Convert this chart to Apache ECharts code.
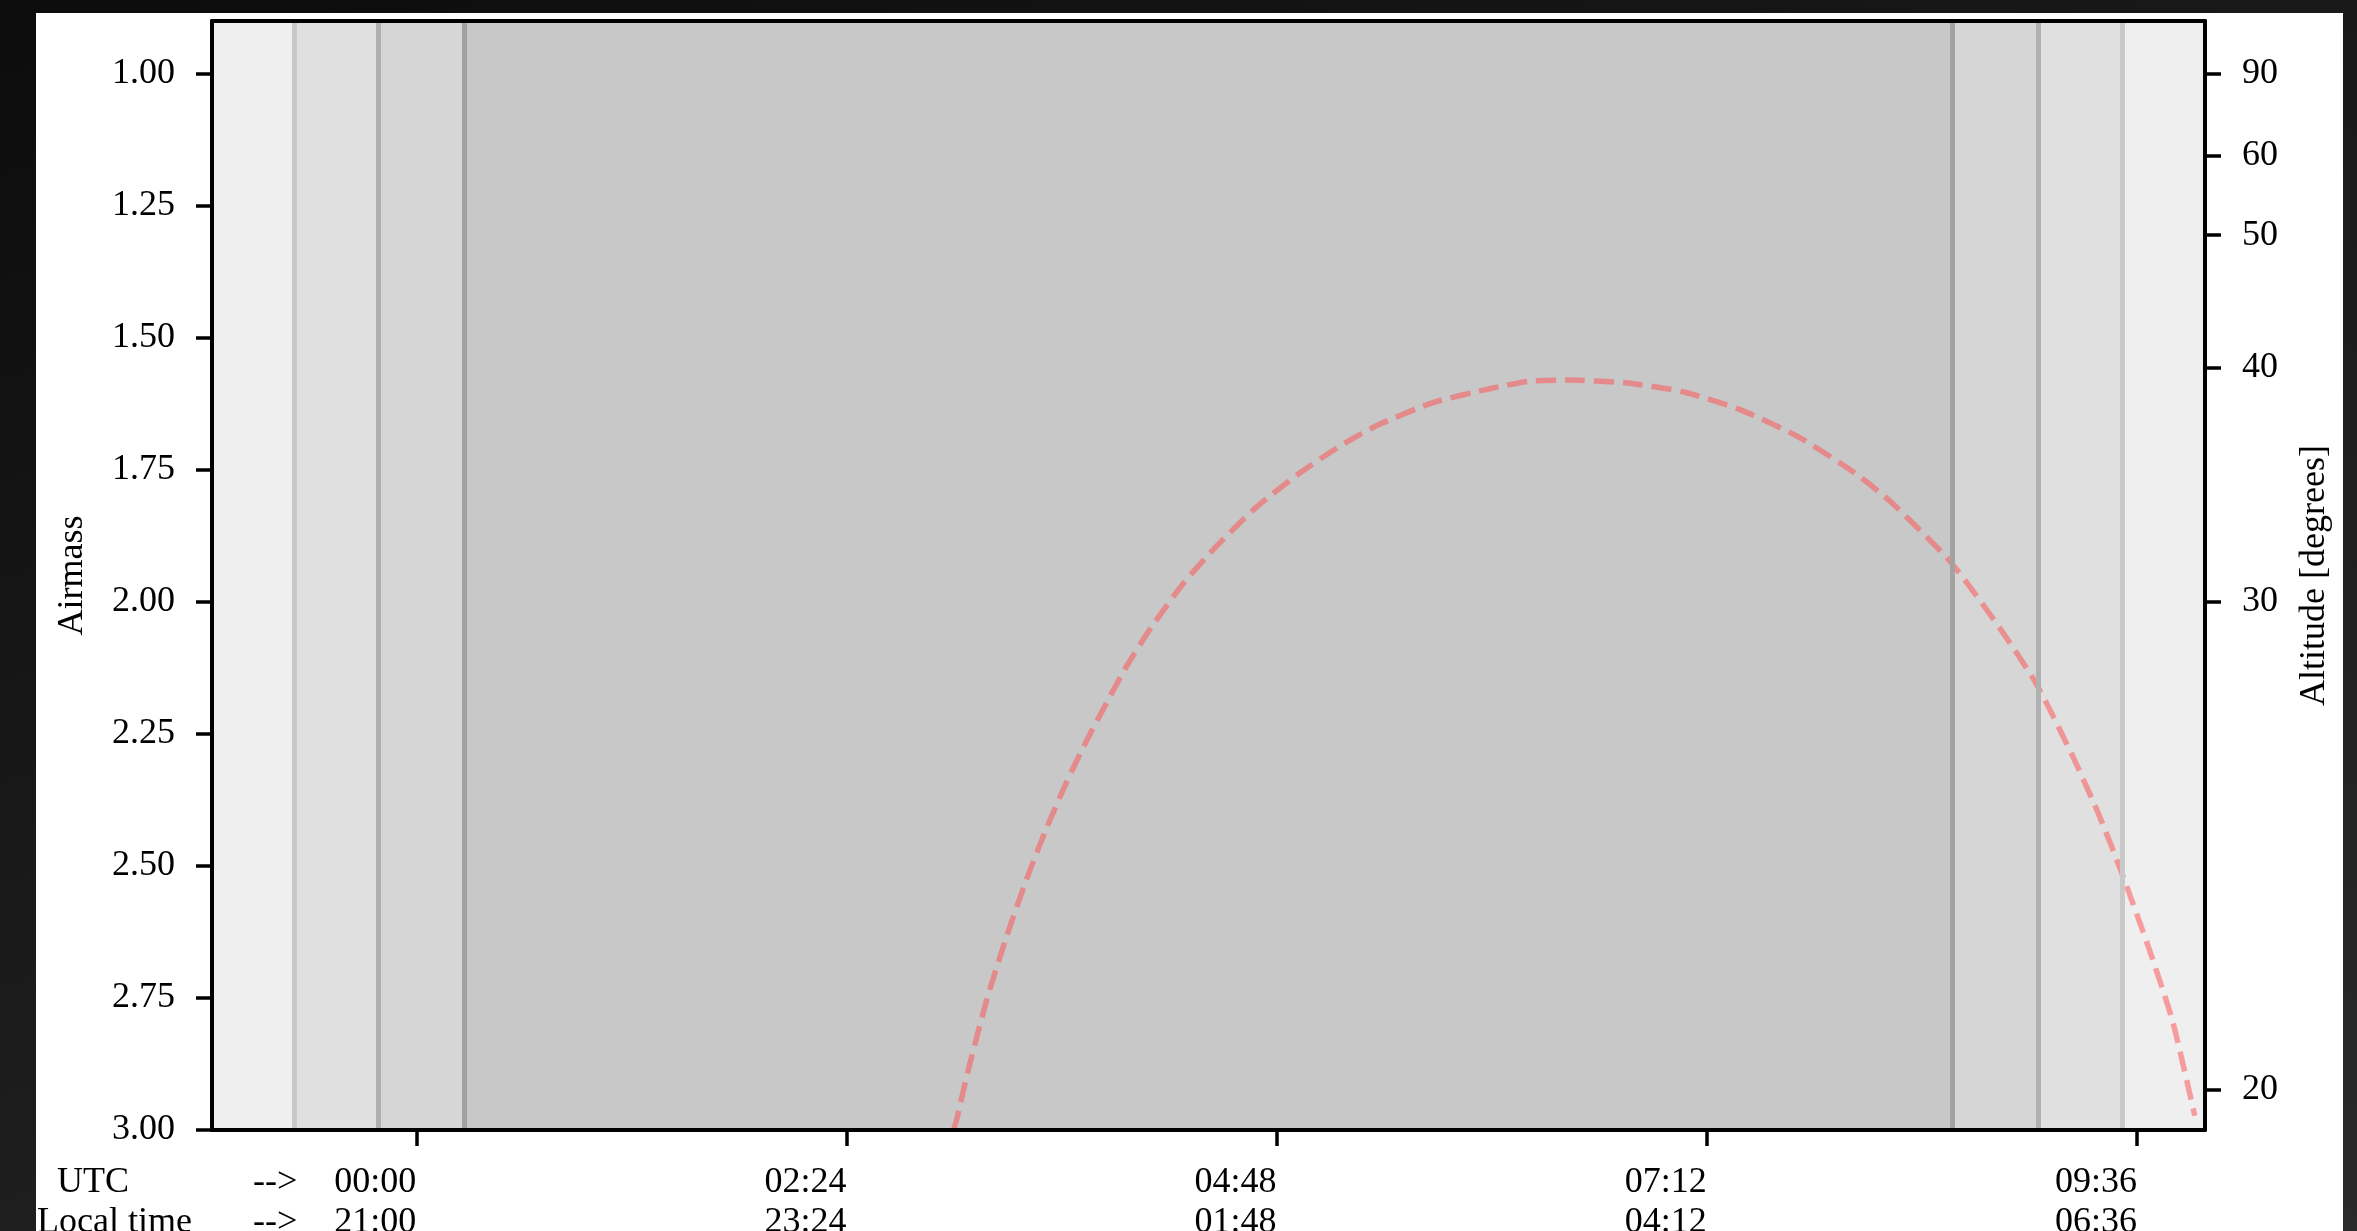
<!DOCTYPE html>
<html><head><meta charset="utf-8">
<script src="https://cdn.jsdelivr.net/npm/echarts@6/dist/echarts.min.js"></script>
<style>
html,body{margin:0;padding:0;width:2357px;height:1231px;overflow:hidden;background:linear-gradient(160deg,#0c0c0c 0%,#1a1a1a 45%,#2a2a2a 100%);}
#c{position:absolute;left:36px;top:13px;width:2307px;height:1218px;background:#ffffff;}
</style></head><body><div id="c"></div>
<script>
// ---- data (hours since 00:00 UTC) ----
const timesUTC = [2.998, 3.015, 3.077, 3.183, 3.295, 3.406, 3.518, 3.630, 3.741, 3.853, 3.964, 4.109, 4.277, 4.466, 4.689, 4.929, 5.153, 5.359, 5.677, 5.995, 6.210, 6.425, 6.743, 7.067, 7.385, 7.709, 8.027, 8.222, 8.557, 8.836, 9.042, 9.243, 9.394, 9.522, 9.673, 9.800, 9.923];
const airmass  = [3.000, 2.980, 2.890, 2.753, 2.632, 2.524, 2.427, 2.340, 2.262, 2.190, 2.121, 2.044, 1.966, 1.894, 1.820, 1.756, 1.705, 1.666, 1.622, 1.596, 1.582, 1.580, 1.585, 1.602, 1.636, 1.687, 1.756, 1.809, 1.923, 2.050, 2.157, 2.293, 2.408, 2.519, 2.662, 2.795, 2.973];
const xTicks = [0, 2.4, 4.8, 7.2, 9.6];
const utcLabels = ['00:00', '02:24', '04:48', '07:12', '09:36'];
const localLabels = ['21:00', '23:24', '01:48', '04:12', '06:36'];
const airmassTicks = [1.00, 1.25, 1.50, 1.75, 2.00, 2.25, 2.50, 2.75, 3.00];
const altitudeTicks = [90, 60, 50, 40, 30, 20];
const eveningTwilight = [-0.677, -0.209, 0.271];
const morningTwilight = [8.572, 9.052, 9.521];
const xRange = [-1.14, 9.98];
const yRange = [0.9, 3.0];

// ---- chart ----
const FONT = 'Liberation Serif, Times New Roman, serif';
const FS = 36;
const altToAirmass = a => 1 / Math.sin(a * Math.PI / 180);
const altPositions = altitudeTicks.map(altToAirmass);
const nearestIdx = (arr, v) => { let b = 0; arr.forEach((x, i) => { if (Math.abs(x - v) < Math.abs(arr[b] - v)) b = i; }); return b; };

const bandColors = ['#efefef', '#e0e0e0', '#d6d6d6', '#c8c8c8', '#d6d6d6', '#e0e0e0', '#efefef'];
const edges = [xRange[0], ...eveningTwilight, ...morningTwilight, xRange[1]];
const bands = [];
for (let i = 0; i < edges.length - 1; i++) {
  bands.push([{ xAxis: edges[i], itemStyle: { color: bandColors[i] } }, { xAxis: edges[i + 1] }]);
}
const lineColors = ['#c8c8c8', '#b0b0b0', '#a2a2a2', '#a2a2a2', '#b0b0b0', '#c8c8c8'];
const twilightLines = [...eveningTwilight, ...morningTwilight].map((v, i) => ({ xAxis: v, lineStyle: { color: lineColors[i], width: 5, type: 'solid' } }));

const chart = echarts.init(document.getElementById('c'), null, { renderer: 'canvas' });
const axisLine = { show: true, onZero: false, lineStyle: { color: '#000', width: 4 } };
const tickStyle = { color: '#000', width: 3.5 };
const txt = (text, x, y) => ({ type: 'text', x: x, y: y, z: 20, style: { text: text, font: FS + 'px ' + FONT, fill: '#000', textAlign: 'left', textVerticalAlign: 'middle' } });
chart.setOption({
  animation: false,
  backgroundColor: '#ffffff',
  grid: { left: 176, right: 138, top: 8, bottom: 101, containLabel: false, outerBoundsMode: 'none' },
  xAxis: [{
    type: 'value', min: xRange[0], max: xRange[1], position: 'bottom', z: 10,
    axisLine: axisLine, splitLine: { show: false },
    axisTick: { show: true, length: 16, lineStyle: tickStyle, customValues: xTicks },
    axisLabel: {
      customValues: xTicks, fontFamily: FONT, fontSize: FS, color: '#000', align: 'right', lineHeight: 40, margin: 33,
      formatter: v => { const i = nearestIdx(xTicks, v); return utcLabels[i] + '\n' + localLabels[i]; }
    }
  }, {
    type: 'value', min: xRange[0], max: xRange[1], position: 'top', z: 10,
    axisLine: axisLine, axisTick: { show: false }, axisLabel: { show: false }, splitLine: { show: false }
  }],
  yAxis: [{
    type: 'value', min: yRange[0], max: yRange[1], inverse: true, position: 'left', z: 10,
    name: 'Airmass', nameLocation: 'middle', nameRotate: 90, nameGap: 121,
    nameTextStyle: { fontFamily: FONT, fontSize: FS, color: '#000' },
    axisLine: axisLine, splitLine: { show: false },
    axisTick: { show: true, length: 16, lineStyle: tickStyle, customValues: airmassTicks },
    axisLabel: { customValues: airmassTicks, fontFamily: FONT, fontSize: FS, color: '#000', margin: 37, formatter: v => v.toFixed(2) }
  }, {
    type: 'value', min: yRange[0], max: yRange[1], inverse: true, position: 'right', z: 10,
    name: 'Altitude [degrees]', nameLocation: 'middle', nameRotate: 90, nameGap: 92,
    nameTextStyle: { fontFamily: FONT, fontSize: FS, color: '#000' },
    axisLine: axisLine, splitLine: { show: false },
    axisTick: { show: true, length: 16, lineStyle: tickStyle, customValues: altPositions },
    axisLabel: { customValues: altPositions, fontFamily: FONT, fontSize: FS, color: '#000', margin: 37,
      formatter: v => String(altitudeTicks[nearestIdx(altPositions, v)]) }
  }],
  graphic: [txt('UTC', 21, 1170), txt('-->', 217, 1170), txt('Local time', 1, 1210), txt('-->', 217, 1210)],
  series: [{
    type: 'line', z: 1, data: [], silent: true,
    markArea: { silent: true, data: bands },
    markLine: { silent: true, symbol: 'none', label: { show: false }, data: twilightLines }
  }, {
    type: 'line', z: 3, silent: true, showSymbol: false, smooth: 0.2, clip: true,
    data: timesUTC.map((t, i) => [t, airmass[i]]),
    lineStyle: { color: 'rgba(255,80,80,0.52)', width: 5.5, type: [20, 9], cap: 'butt' }
  }]
});
</script></body></html>
